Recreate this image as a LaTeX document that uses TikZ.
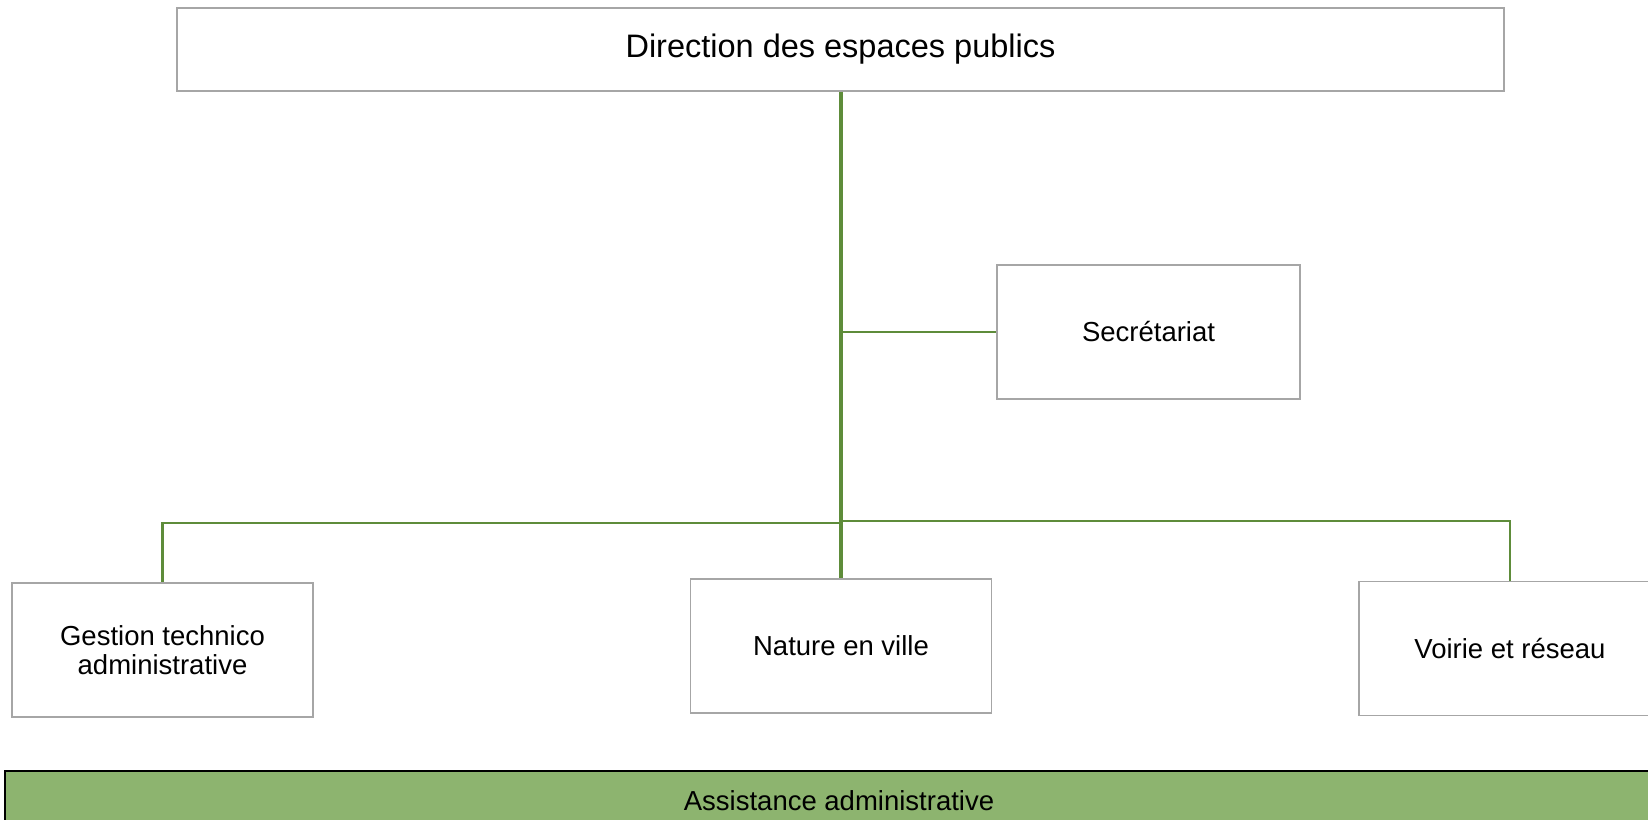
\documentclass[tikz,border=0pt]{standalone}
\usepackage{fontspec}
\setmainfont{Liberation Sans}
\usepackage{tikz}
\usetikzlibrary{positioning}

\definecolor{lien}{RGB}{94,140,58}
\definecolor{cadre}{RGB}{166,166,166}
\definecolor{assist}{RGB}{141,180,111}

\begin{document}
\begin{tikzpicture}[x=1pt,y=-1pt,
    service/.style={draw=cadre, line width=1.4pt, fill=white, inner sep=0pt,
      minimum width=301pt, minimum height=134pt, align=center,
      font=\fontsize{27.5}{28.5}\selectfont},
    lien/.style={draw=lien, line width=2.6pt}]

%      \draw[help lines] (0,0) grid[step=100] (1648,819);
      \clip (0,0) rectangle (1648,819);

      \node[service, minimum width=1327pt, minimum height=83pt,
        font=\fontsize{32.5}{34}\selectfont] (direction) at (840.5,49.5)
        {Direction des espaces publics};
      \node[service, minimum width=303pt] (secretariat) at (1148.5,332) {Secrétariat};
      \node[service] (gestion) at (162.5,650) {Gestion technico\\administrative};
      \node[service] (nature) at (841,646) {Nature en ville};
      \node[service, minimum width=302pt] (voirie) at (1510,648.5) {Voirie et réseau};

      \coordinate (jsec) at (840,332);
      \coordinate (jgauche) at (840,523);
      \coordinate (jdroite) at (840,521);

      % liaisons
      \draw[lien, line width=3.2pt] (direction.south -| nature.north) -- (nature.north);
      \draw[lien] (jsec) -- (secretariat.west);
      \draw[lien] (jgauche) -| (gestion.north);
      \draw[lien] (jdroite) -| (voirie.north);

      \node[draw=black, line width=2pt, fill=assist, inner sep=0pt,
        minimum width=1668pt, minimum height=60pt,
        font=\fontsize{27.5}{28.5}\selectfont] (assistance) at (839,801)
        {Assistance administrative};
\end{tikzpicture}
\end{document}
